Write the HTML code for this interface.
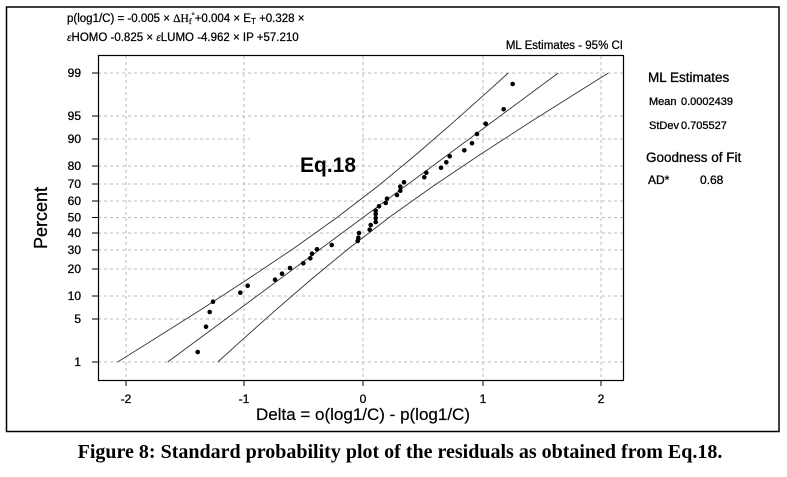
<!DOCTYPE html>
<html><head><meta charset="utf-8"><style>
html,body{margin:0;padding:0;background:#fff;}
svg{display:block;font-family:"Liberation Sans",Arial,sans-serif;}
</style></head><body>
<svg width="787" height="477" viewBox="0 0 787 477" xmlns="http://www.w3.org/2000/svg">
<rect x="0" y="0" width="787" height="477" fill="#fff"/>
<rect x="6.5" y="7" width="772.5" height="424.5" fill="none" stroke="#000" stroke-width="1.5"/>
<g stroke="#bbb" stroke-width="1" stroke-dasharray="3,3" fill="none">
<line x1="126" y1="56" x2="126" y2="380"/>
<line x1="244" y1="56" x2="244" y2="380"/>
<line x1="363" y1="56" x2="363" y2="380"/>
<line x1="483" y1="56" x2="483" y2="380"/>
<line x1="601" y1="56" x2="601" y2="380"/>
<line x1="98" y1="73" x2="624" y2="73"/>
<line x1="98" y1="116" x2="624" y2="116"/>
<line x1="98" y1="139" x2="624" y2="139"/>
<line x1="98" y1="166" x2="624" y2="166"/>
<line x1="98" y1="184" x2="624" y2="184"/>
<line x1="98" y1="201" x2="624" y2="201"/>
<line x1="98" y1="217.5" x2="624" y2="217.5"/>
<line x1="98" y1="233" x2="624" y2="233"/>
<line x1="98" y1="250" x2="624" y2="250"/>
<line x1="98" y1="269" x2="624" y2="269"/>
<line x1="98" y1="296" x2="624" y2="296"/>
<line x1="98" y1="319" x2="624" y2="319"/>
<line x1="98" y1="362" x2="624" y2="362"/>
</g>
<rect x="250" y="127" width="112" height="22" fill="#fff"/>
<rect x="98.5" y="55.5" width="525" height="325" fill="none" stroke="#000" stroke-width="1.2"/>
<g stroke="#000" stroke-width="1">
<line x1="92" y1="73" x2="98" y2="73"/><line x1="92" y1="116" x2="98" y2="116"/>
<line x1="92" y1="139" x2="98" y2="139"/><line x1="92" y1="166" x2="98" y2="166"/>
<line x1="92" y1="184" x2="98" y2="184"/><line x1="92" y1="201" x2="98" y2="201"/>
<line x1="92" y1="217.5" x2="98" y2="217.5"/><line x1="92" y1="233" x2="98" y2="233"/>
<line x1="92" y1="250" x2="98" y2="250"/><line x1="92" y1="269" x2="98" y2="269"/>
<line x1="92" y1="296" x2="98" y2="296"/><line x1="92" y1="319" x2="98" y2="319"/>
<line x1="92" y1="362" x2="98" y2="362"/>
<line x1="126" y1="380" x2="126" y2="386"/><line x1="244" y1="380" x2="244" y2="386"/>
<line x1="363" y1="380" x2="363" y2="386"/><line x1="483" y1="380" x2="483" y2="386"/>
<line x1="601" y1="380" x2="601" y2="386"/>
</g>
<g font-size="12" text-anchor="end" fill="#000" stroke="#000" stroke-width="0.3">
<text x="81" y="77">99</text><text x="81" y="120">95</text><text x="81" y="143">90</text>
<text x="81" y="170">80</text><text x="81" y="188">70</text><text x="81" y="205">60</text>
<text x="81" y="221.5">50</text><text x="81" y="237">40</text><text x="81" y="254">30</text>
<text x="81" y="273">20</text><text x="81" y="300">10</text><text x="81" y="323">5</text>
<text x="81" y="366">1</text>
</g>
<g font-size="12" text-anchor="middle" stroke="#000" stroke-width="0.3">
<text x="126" y="403">-2</text><text x="244" y="403">-1</text><text x="363" y="403">0</text>
<text x="483" y="403">1</text><text x="601" y="403">2</text>
</g>
<g fill="none" stroke="#333" stroke-width="0.9">
<polyline points="117.6,362 150,341.7 199.2,310.7 247.1,279.6 293.4,248.6 337,217.5 377.4,186.5 415.1,155.4 451,124.3 485.8,93.3 508.2,73"/>
<polyline points="217.8,362 240.2,341.7 275,310.7 310.9,279.6 348.6,248.6 389,217.5 432.6,186.5 478.9,155.4 526.8,124.3 576,93.3 608.4,73"/>
<line x1="167.7" y1="362" x2="558.3" y2="73"/>
</g>
<g fill="#000">
<circle cx="512.7" cy="84" r="2.3"/><circle cx="503.7" cy="109.3" r="2.3"/><circle cx="485.7" cy="123.7" r="2.3"/>
<circle cx="477" cy="134" r="2.3"/><circle cx="472" cy="143.3" r="2.3"/><circle cx="464.3" cy="150.3" r="2.3"/>
<circle cx="449.7" cy="156.3" r="2.3"/><circle cx="446.3" cy="162.3" r="2.3"/><circle cx="441" cy="167.7" r="2.3"/>
<circle cx="426.3" cy="172.7" r="2.3"/><circle cx="424.3" cy="177.3" r="2.3"/><circle cx="404" cy="182.3" r="2.3"/>
<circle cx="400.3" cy="186.7" r="2.3"/><circle cx="400.3" cy="190.7" r="2.3"/><circle cx="397" cy="195" r="2.3"/>
<circle cx="387" cy="198.7" r="2.3"/><circle cx="385.7" cy="203" r="2.3"/><circle cx="379" cy="206.3" r="2.3"/>
<circle cx="375.7" cy="210.7" r="2.3"/><circle cx="375.7" cy="214" r="2.3"/><circle cx="375.7" cy="218" r="2.3"/>
<circle cx="375.7" cy="222" r="2.3"/><circle cx="370.7" cy="225" r="2.3"/><circle cx="369.7" cy="229.7" r="2.3"/>
<circle cx="359" cy="233" r="2.3"/><circle cx="358.3" cy="237.7" r="2.3"/><circle cx="357.7" cy="241" r="2.3"/>
<circle cx="331.7" cy="245" r="2.3"/><circle cx="317" cy="249.3" r="2.3"/><circle cx="312" cy="253.7" r="2.3"/>
<circle cx="310.3" cy="258.3" r="2.3"/><circle cx="303.3" cy="263.3" r="2.3"/><circle cx="290" cy="268" r="2.3"/>
<circle cx="282" cy="273.7" r="2.3"/><circle cx="275" cy="279.7" r="2.3"/><circle cx="247.7" cy="285.7" r="2.3"/>
<circle cx="240.3" cy="292.7" r="2.3"/><circle cx="213" cy="301.7" r="2.3"/><circle cx="209.7" cy="312" r="2.3"/>
<circle cx="206" cy="326.7" r="2.3"/><circle cx="197.7" cy="352" r="2.3"/>
</g>
<g stroke="#000" stroke-width="0.25">
<text x="67" y="22" font-size="11.5">p(log1/C) = -0.005 × <tspan font-family="Liberation Serif,serif">ΔH<tspan font-size="8" dy="2">f</tspan><tspan font-size="8" dy="-6">°</tspan></tspan><tspan dy="4">+0.004 × E</tspan><tspan font-size="8" dy="2">T</tspan><tspan dy="-2"> +0.328 ×</tspan></text>
<text x="67" y="41" font-size="11.5"><tspan font-family="Liberation Serif,serif" font-style="italic">ε</tspan>HOMO -0.825 × <tspan font-family="Liberation Serif,serif" font-style="italic">ε</tspan>LUMO -4.962 × IP +57.210</text>
<text x="623" y="49" font-size="11.5" text-anchor="end">ML Estimates - 95% CI</text>
</g>
<text x="300" y="172" font-size="21" font-weight="bold">Eq.18</text>
<text x="47" y="218" font-size="18" text-anchor="middle" stroke="#000" stroke-width="0.3" transform="rotate(-90 47 218)">Percent</text>
<text x="363" y="420" font-size="17" text-anchor="middle" stroke="#000" stroke-width="0.2">Delta = o(log1/C) - p(log1/C)</text>
<g stroke="#000" stroke-width="0.3">
<text x="648" y="82" font-size="13.5">ML Estimates</text>
<text x="649" y="105" font-size="11">Mean</text><text x="681" y="105" font-size="11">0.0002439</text>
<text x="649" y="129" font-size="11">StDev</text><text x="681" y="129" font-size="11">0.705527</text>
<text x="646" y="162" font-size="13.5">Goodness of Fit</text>
<text x="648" y="184" font-size="12">AD*</text><text x="700" y="184" font-size="12">0.68</text>
</g>
<text x="400" y="458" font-size="20" font-weight="bold" text-anchor="middle" font-family="Liberation Serif,serif">Figure 8: Standard probability plot of the residuals as obtained from Eq.18.</text>
</svg>
</body></html>
